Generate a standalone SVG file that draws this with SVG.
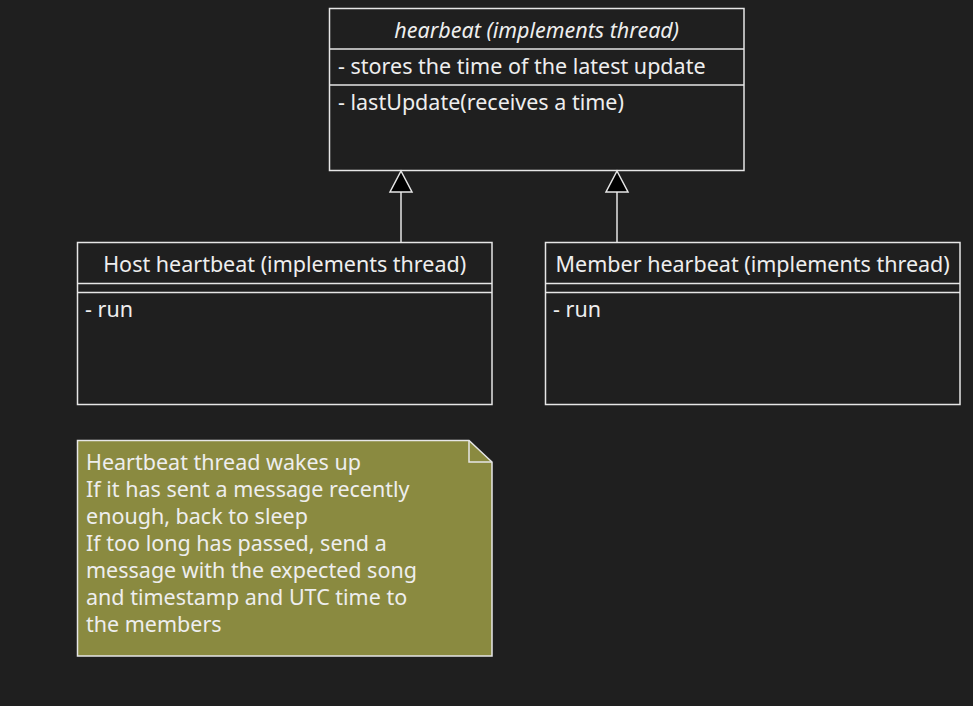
<svg xmlns="http://www.w3.org/2000/svg" width="973" height="706" viewBox="0 0 973 706">
<style>
.box{fill:none;stroke:#e6e6e6;stroke-width:1.5}
.ln{stroke:#e6e6e6;stroke-width:1.5;fill:none}
text{font-family:"Noto Sans","Open Sans","DejaVu Sans",sans-serif;font-size:21.5px;fill:#eeeeee}
.it{font-style:italic}
.arr{fill:#000;stroke:#e6e6e6;stroke-width:1.5}
</style>
<rect width="973" height="706" fill="#1f1f1f"/>
<g id="hearbeat">
<rect class="box" x="329.5" y="8.5" width="414.5" height="162"/>
<line class="ln" x1="329.5" y1="49" x2="744" y2="49"/>
<line class="ln" x1="329.5" y1="85" x2="744" y2="85"/>
<text class="it" x="536.7" y="37.5" text-anchor="middle">hearbeat (implements thread)</text>
<text x="338" y="74">- stores the time of the latest update</text>
<text x="338" y="110">- lastUpdate(receives a time)</text>
</g>
<g id="host">
<rect class="box" x="77.5" y="242.5" width="414.5" height="162"/>
<line class="ln" x1="77.5" y1="283.5" x2="492" y2="283.5"/>
<line class="ln" x1="77.5" y1="292.5" x2="492" y2="292.5"/>
<text x="284.7" y="272" text-anchor="middle">Host heartbeat (implements thread)</text>
<text x="85" y="316.5">- run</text>
</g>
<g id="member">
<rect class="box" x="545.5" y="242.5" width="414.5" height="162"/>
<line class="ln" x1="545.5" y1="283.5" x2="960" y2="283.5"/>
<line class="ln" x1="545.5" y1="292.5" x2="960" y2="292.5"/>
<text x="752.7" y="272" text-anchor="middle">Member hearbeat (implements thread)</text>
<text x="553" y="316.5">- run</text>
</g>
<g id="connectors">
<line class="ln" x1="401" y1="192" x2="401" y2="242.5"/>
<polygon class="arr" points="401,171 390,192 412,192"/>
<line class="ln" x1="617" y1="192" x2="617" y2="242.5"/>
<polygon class="arr" points="617,171 606,192 628,192"/>
</g>
<g id="note">
<path d="M77.5,440.5 H469 L492,462 V656 H77.5 Z" fill="#8a8a40" stroke="#e6e6e6" stroke-width="1.5"/>
<path d="M469,440.5 V462 H492" fill="none" stroke="#e6e6e6" stroke-width="1.5"/>
<text x="86" y="470">Heartbeat thread wakes up</text>
<text x="86" y="497">If it has sent a message recently</text>
<text x="86" y="524">enough, back to sleep</text>
<text x="86" y="551">If too long has passed, send a</text>
<text x="86" y="578">message with the expected song</text>
<text x="86" y="605">and timestamp and UTC time to</text>
<text x="86" y="632">the members</text>
</g>
</svg>
